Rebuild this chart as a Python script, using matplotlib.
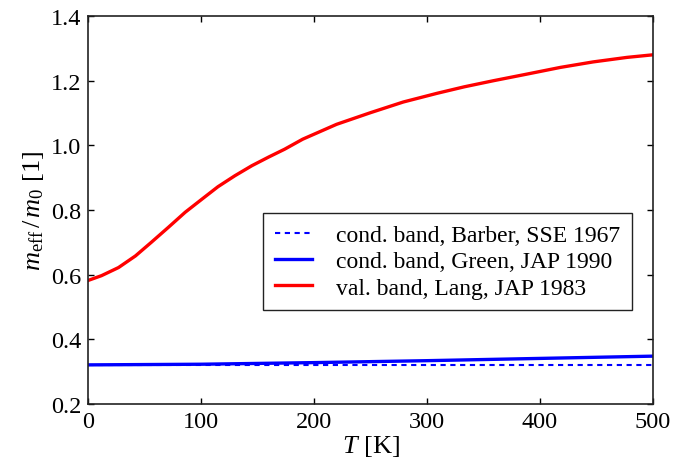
import numpy as np
import matplotlib
matplotlib.use('Agg')
import matplotlib.pyplot as plt

# effective mass vs temperature
T_barber = [0, 500]
m_barber = [0.321, 0.321]

T_green = [0, 100, 200, 300, 400, 500]
m_green = [0.321, 0.323, 0.328, 0.334, 0.341, 0.348]

T_lang = [0, 12, 27, 42, 56, 71, 86, 101, 115, 130, 145, 160, 174, 190,
          220, 250, 279, 309, 333, 359, 388, 418, 447, 477, 500]
m_lang = [0.582, 0.597, 0.622, 0.658, 0.700, 0.746, 0.793, 0.834, 0.872,
          0.906, 0.937, 0.964, 0.988, 1.019, 1.065, 1.101, 1.134, 1.161,
          1.181, 1.200, 1.220, 1.241, 1.258, 1.272, 1.280]

labels = ['cond. band, Barber, SSE 1967',
          'cond. band, Green, JAP 1990',
          'val. band, Lang, JAP 1983']

plt.rcParams['font.family'] = ['Liberation Serif', 'DejaVu Serif']
plt.rcParams['mathtext.fontset'] = 'custom'
plt.rcParams['mathtext.rm'] = 'Liberation Serif'
plt.rcParams['mathtext.it'] = 'Liberation Serif:italic'

fig = plt.figure(figsize=(6.73, 4.77), dpi=100)
ax = fig.add_axes([88 / 673, 72 / 477, 565 / 673, 388 / 477])

ax.plot(T_barber, m_barber, '--', color='blue', lw=1.5, dashes=(2.5, 2.2), label=labels[0])
ax.plot(T_green, m_green, '-', color='blue', lw=2.4, label=labels[1])
ax.plot(T_lang, m_lang, '-', color='red', lw=2.4, solid_joinstyle='round', label=labels[2])

ax.set_xlim(0, 500)
ax.set_ylim(0.2, 1.4)
ax.set_xticks([0, 100, 200, 300, 400, 500])
ax.set_yticks([0.2, 0.4, 0.6, 0.8, 1.0, 1.2, 1.4])
ax.tick_params(direction='in', top=True, right=True, length=4.5, width=1,
               labelsize=17.5, pad=5)
for s in ax.spines.values():
    s.set_linewidth(1.2)
    s.set_color('#222222')

ax.set_xlabel(r'$T$ [K]', fontsize=19, labelpad=1)
ax.set_ylabel(r'$m_\mathrm{eff}\,/\,m_0$ [1]', fontsize=19, labelpad=3)

leg = ax.legend(loc='center', bbox_to_anchor=(0.636, 0.367), fontsize=17,
                fancybox=False, edgecolor='#222222', framealpha=1,
                handlelength=1.6, handletextpad=1.0, borderpad=0.5,
                labelspacing=0.2)
leg.get_frame().set_linewidth(1.0)

fig.savefig('out.png', dpi=100)
